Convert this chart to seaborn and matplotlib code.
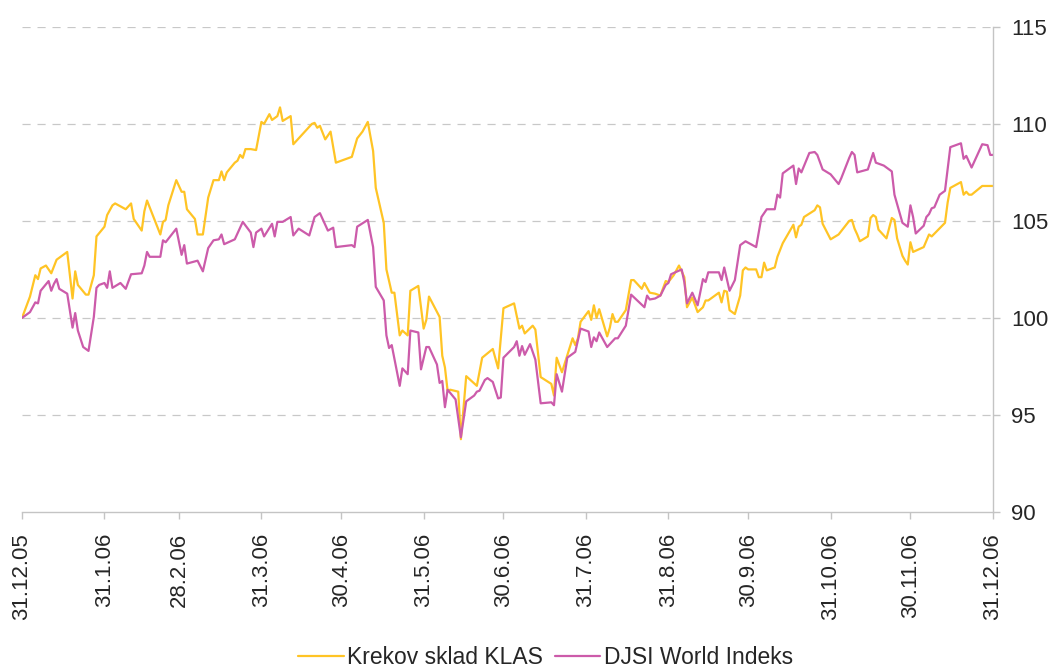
import numpy as np
import pandas as pd
import matplotlib
matplotlib.use("Agg")
import matplotlib.pyplot as plt
import seaborn as sns
from matplotlib.lines import Line2D

# ---- data ----
start_date = "2005-12-31"
klas_label = "Krekov sklad KLAS"
djsi_label = "DJSI World Indeks"

klas_days = [0, 3, 5, 6, 7, 9, 11, 13, 17, 19,
             20, 21, 24, 25, 27, 28, 31, 32, 34, 35,
             39, 41, 42, 45, 46, 47, 52, 53, 54, 55,
             58, 60, 61, 62, 65, 66, 68, 70, 72, 74,
             75, 76, 77, 80, 81, 82, 83, 84, 86, 88,
             90, 91, 93, 94, 96, 97, 98, 101, 102, 109,
             110, 111, 112, 114, 116, 118, 124, 126, 128, 130,
             132, 133, 136, 137, 139, 140, 142, 143, 145, 146,
             149, 151, 152, 153, 157, 158, 159, 160, 161, 164,
             165, 167, 171, 173, 177, 179, 181, 185, 187, 188,
             189, 192, 193, 195, 199, 200, 201, 203, 207, 208,
             209, 210, 213, 214, 215, 216, 217, 220, 221, 222,
             223, 224, 227, 229, 230, 233, 234, 236, 238, 240,
             242, 243, 245, 247, 249, 250, 252, 254, 256, 257,
             258, 262, 263, 264, 265, 266, 268, 270, 271, 272,
             273, 276, 277, 278, 279, 280, 283, 284, 286, 290,
             291, 292, 293, 294, 298, 299, 300, 301, 304, 307,
             311, 312, 313, 314, 315, 318, 319, 320, 321, 322,
             325, 327, 328, 329, 331, 332, 333, 334, 335, 339,
             341, 342, 347, 348, 349, 353, 354, 355, 356, 357,
             361, 365]
klas_values = [100.0, 101.1, 102.2, 102.0, 102.55, 102.7, 102.3, 103.0, 103.4, 101.0,
               102.4, 101.7, 101.2, 101.2, 102.2, 104.2, 104.7, 105.3, 105.8, 105.9,
               105.6, 105.9, 105.1, 104.5, 105.5, 106.05, 104.3, 104.95, 105.05, 105.8,
               107.1, 106.5, 106.5, 105.6, 105.1, 104.3, 104.3, 106.2, 107.1, 107.1,
               107.55, 107.1, 107.5, 108.0, 108.1, 108.4, 108.25, 108.7, 108.7, 108.65,
               110.1, 110.0, 110.5, 110.2, 110.4, 110.85, 110.15, 110.4, 108.95, 110.0,
               110.05, 109.8, 109.9, 109.2, 109.6, 108.0, 108.3, 109.25, 109.6, 110.1,
               108.6, 106.7, 104.9, 102.5, 101.3, 101.3, 99.1, 99.35, 99.1, 101.4,
               101.65, 99.45, 99.9, 101.1, 100.05, 98.05, 97.45, 96.25, 96.3, 96.2,
               93.75, 97.0, 96.5, 97.95, 98.4, 97.4, 100.5, 100.75, 99.45, 99.6,
               99.2, 99.6, 99.4, 96.95, 96.6, 96.0, 97.95, 97.2, 98.95, 98.6,
               98.95, 99.8, 100.35, 99.9, 100.65, 100.0, 100.45, 99.05, 99.5, 100.2,
               99.8, 99.8, 100.4, 101.95, 101.95, 101.5, 101.8, 101.3, 101.25, 101.15,
               101.9, 101.85, 102.2, 102.7, 102.1, 100.55, 101.05, 100.3, 100.55, 100.9,
               100.9, 101.3, 100.8, 101.4, 101.35, 100.4, 100.2, 101.15, 102.45, 102.6,
               102.5, 102.5, 102.1, 102.1, 102.85, 102.45, 102.6, 103.15, 103.85, 104.8,
               104.15, 104.7, 104.8, 105.2, 105.55, 105.8, 105.7, 104.85, 104.05, 104.3,
               105.0, 105.05, 104.6, 104.3, 103.95, 104.2, 105.15, 105.3, 105.2, 104.55,
               104.1, 105.15, 105.05, 104.1, 103.2, 102.95, 102.75, 103.9, 103.4, 103.65,
               104.3, 104.2, 104.9, 105.95, 106.7, 107.0, 106.35, 106.5, 106.35, 106.35,
               106.8, 106.8]

djsi_days = [0, 3, 5, 6, 7, 10, 11, 12, 13, 14,
             17, 19, 20, 21, 23, 25, 27, 28, 29, 31,
             32, 33, 34, 37, 39, 41, 45, 46, 47, 48,
             52, 53, 54, 58, 60, 61, 62, 66, 68, 70,
             72, 74, 75, 76, 80, 83, 86, 87, 88, 90,
             91, 94, 95, 96, 98, 101, 102, 104, 108, 110,
             112, 115, 117, 118, 124, 125, 126, 130, 132, 133,
             136, 137, 138, 139, 142, 143, 145, 146, 149, 150,
             152, 153, 156, 157, 158, 159, 160, 163, 165, 167,
             170, 171, 172, 174, 175, 177, 179, 180, 181, 185,
             186, 187, 188, 189, 191, 193, 195, 199, 200, 201,
             203, 205, 208, 210, 213, 214, 215, 216, 217, 220,
             223, 224, 227, 229, 234, 235, 236, 238, 240, 242,
             243, 244, 248, 249, 250, 252, 254, 256, 257, 258,
             262, 263, 264, 266, 268, 270, 272, 276, 278, 280,
             283, 284, 285, 286, 290, 291, 292, 293, 296, 298,
             299, 301, 304, 307, 308, 311, 312, 313, 314, 318,
             320, 321, 324, 327, 328, 331, 333, 334, 335, 336,
             339, 340, 341, 342, 343, 345, 347, 349, 353, 354,
             355, 357, 361, 363, 364, 365]
djsi_values = [100.0, 100.3, 100.8, 100.75, 101.4, 101.9, 101.4, 101.75, 102.0, 101.5,
               101.25, 99.5, 100.25, 99.35, 98.5, 98.3, 100.05, 101.55, 101.7, 101.8,
               101.55, 102.4, 101.55, 101.8, 101.5, 102.25, 102.3, 102.7, 103.4, 103.15,
               103.15, 104.0, 103.9, 104.6, 103.25, 103.75, 102.8, 102.95, 102.4, 103.6,
               104.0, 104.05, 104.3, 103.8, 104.05, 104.95, 104.4, 103.65, 104.4, 104.6,
               104.2, 104.85, 104.2, 104.95, 104.95, 105.2, 104.25, 104.6, 104.25, 105.2,
               105.4, 104.5, 104.65, 103.65, 103.75, 103.65, 104.7, 105.05, 103.65, 101.6,
               100.9, 99.1, 98.45, 98.6, 96.5, 97.4, 97.1, 99.35, 99.25, 97.35,
               98.5, 98.5, 97.6, 96.65, 96.75, 95.4, 96.3, 95.8, 93.85, 95.7,
               96.0, 96.2, 96.25, 96.8, 96.9, 96.7, 95.85, 95.9, 97.95, 98.5,
               98.8, 98.05, 98.55, 98.1, 98.65, 97.85, 95.6, 95.65, 95.5, 97.1,
               96.2, 97.95, 98.25, 99.45, 99.3, 98.5, 99.0, 98.8, 99.25, 98.5,
               98.95, 98.95, 99.6, 101.2, 100.55, 101.15, 100.95, 101.0, 101.15, 101.7,
               101.8, 102.25, 102.5, 101.85, 100.75, 101.3, 100.65, 102.0, 101.85, 102.35,
               102.35, 101.95, 102.6, 101.4, 101.95, 103.75, 103.95, 103.65, 105.2, 105.6,
               105.6, 106.35, 106.2, 107.45, 107.85, 106.9, 107.7, 107.5, 108.5, 108.55,
               108.4, 107.65, 107.4, 106.9, 107.2, 108.25, 108.55, 108.4, 107.5, 107.65,
               108.5, 108.0, 107.85, 107.55, 106.35, 104.9, 104.7, 105.8, 105.2, 104.35,
               104.75, 105.2, 105.35, 105.65, 105.7, 106.35, 106.55, 108.8, 109.0, 108.2,
               108.35, 107.75, 108.95, 108.9, 108.4, 108.4]

tick_dates = ["2005-12-31", "2006-01-31", "2006-02-28", "2006-03-31", "2006-04-30",
              "2006-05-31", "2006-06-30", "2006-07-31", "2006-08-31", "2006-09-30",
              "2006-10-31", "2006-11-30", "2006-12-31"]
tick_labels = ["31.12.05", "31.1.06", "28.2.06", "31.3.06", "30.4.06", "31.5.06",
               "30.6.06", "31.7.06", "31.8.06", "30.9.06", "31.10.06", "30.11.06",
               "31.12.06"]
y_ticks = [90, 95, 100, 105, 110, 115]

assert len(klas_days) == len(klas_values)
assert len(djsi_days) == len(djsi_values)

base = pd.Timestamp(start_date)
df = pd.concat([
    pd.DataFrame({"date": base + pd.to_timedelta(klas_days, unit="D"),
                  "value": klas_values, "series": klas_label}),
    pd.DataFrame({"date": base + pd.to_timedelta(djsi_days, unit="D"),
                  "value": djsi_values, "series": djsi_label}),
], ignore_index=True)

# ---- style ----
sns.set_style("white")
plt.rcParams["font.family"] = ["Liberation Sans", "DejaVu Sans"]

colors = {klas_label: "#FFC425", djsi_label: "#CC5BAA"}
grid_color = "#C8C8C8"
axis_color = "#C4C4C4"

fig = plt.figure(figsize=(10.53, 6.71), dpi=100)
ax = fig.add_axes([0.0209, 0.237, 0.922, 0.723])

sns.lineplot(data=df, x="date", y="value", hue="series", palette=colors,
             hue_order=[klas_label, djsi_label], linewidth=1.6, ax=ax,
             estimator=None, sort=True, legend=False)

ax.set_xlim(pd.Timestamp(tick_dates[0]), pd.Timestamp(tick_dates[-1]))
ax.set_ylim(y_ticks[0], y_ticks[-1])
ax.set_xlabel("")
ax.set_ylabel("")

ax.set_xticks([pd.Timestamp(d) for d in tick_dates])
ax.set_xticklabels(tick_labels, rotation=90, fontsize=16, va="top", ha="center")
ax.set_yticks(y_ticks)
ax.set_yticklabels([str(v) for v in y_ticks], fontsize=16)
ax.yaxis.tick_right()

for yv in y_ticks[1:]:
    ax.axhline(yv, color=grid_color, linewidth=0.9, linestyle=(0, (6.5, 5.5)), zorder=0)

for side in ["top", "left"]:
    ax.spines[side].set_visible(False)
for side in ["bottom", "right"]:
    ax.spines[side].set_color(axis_color)
    ax.spines[side].set_linewidth(1.0)

ax.tick_params(axis="x", direction="out", length=5, width=1, color=axis_color,
               pad=10, bottom=True)
ax.tick_params(axis="y", direction="out", length=5, width=1, color=axis_color,
               pad=8, right=True, left=False, labelright=True, labelleft=False)

handles = [Line2D([], [], color=colors[klas_label], linewidth=1.6),
           Line2D([], [], color=colors[djsi_label], linewidth=1.6)]
fig.legend(handles, [klas_label, djsi_label], loc="center", ncol=2,
           bbox_to_anchor=(0.518, 0.02), frameon=False, fontsize=16.5,
           handlelength=2.0, handletextpad=0.15, columnspacing=0.5,
           borderaxespad=0, borderpad=0)

fig.savefig("out.png", dpi=100)
